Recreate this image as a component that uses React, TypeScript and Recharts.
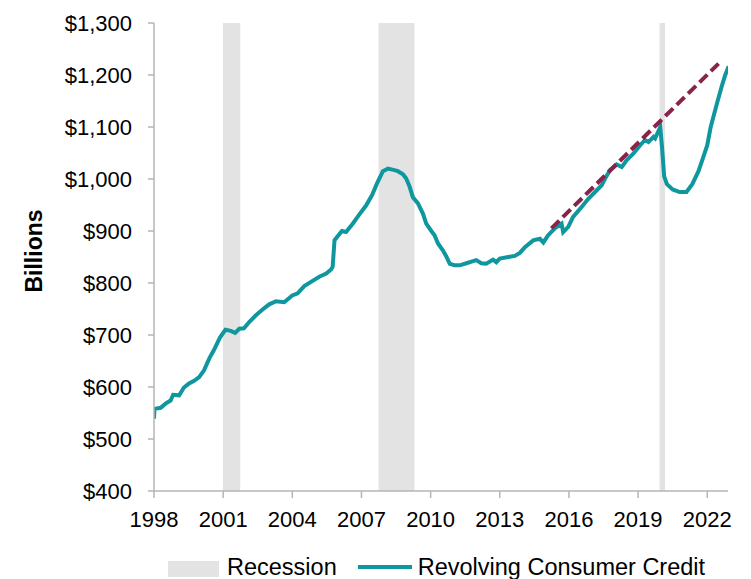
import React from "react";
import {
  Legend,
  Line,
  LineChart,
  ReferenceArea,
  XAxis,
  YAxis
} from "recharts";

const creditYears = [
  1998.0, 1998.02, 1998.29, 1998.5, 1998.72, 1998.83, 1999.09, 1999.3, 1999.52, 1999.74,
  1999.96, 2000.17, 2000.4, 2000.6, 2000.86, 2001.1, 2001.33, 2001.52, 2001.7, 2001.9,
  2002.13, 2002.42, 2002.71, 2003.0, 2003.29, 2003.65, 2004.0, 2004.23, 2004.52, 2004.88,
  2005.17, 2005.47, 2005.68, 2005.75, 2005.83, 2006.15, 2006.33, 2006.62, 2006.91, 2007.2,
  2007.46, 2007.67, 2007.93, 2008.15, 2008.43, 2008.58, 2008.8, 2008.94, 2009.09, 2009.23,
  2009.45, 2009.67, 2009.81, 2010.03, 2010.17, 2010.32, 2010.53, 2010.68, 2010.83, 2011.04,
  2011.26, 2011.55, 2011.84, 2011.98, 2012.2, 2012.41, 2012.71, 2012.85, 2013.0, 2013.37,
  2013.65, 2013.87, 2014.09, 2014.45, 2014.74, 2014.89, 2015.1, 2015.39, 2015.68, 2015.75,
  2015.97, 2016.18, 2016.55, 2016.84, 2017.13, 2017.42, 2017.57, 2017.78, 2018.07, 2018.29,
  2018.5, 2018.8, 2019.09, 2019.3, 2019.45, 2019.67, 2019.74, 2019.96, 2020.04, 2020.13,
  2020.25, 2020.5, 2020.8, 2021.1, 2021.35, 2021.62, 2021.85, 2022.0, 2022.15, 2022.42,
  2022.64, 2022.78, 2022.93
];

const creditValues = [
  539, 558, 560, 568, 574, 585, 584, 599, 607, 612,
  619, 632, 655, 671, 695, 710, 708, 704, 712, 713,
  725, 738, 749, 759, 765, 763, 776, 780, 794, 804,
  812, 818, 826, 831, 882, 900, 898, 914, 932, 949,
  969, 991, 1015, 1020, 1017, 1015, 1009, 1001, 985, 965,
  953, 933, 914, 900, 892, 876, 863, 851, 837, 834,
  834, 838, 842, 844, 838, 837, 845, 840, 847, 850,
  852, 858, 869, 882, 885, 878, 892, 905, 914, 898,
  908, 927, 946, 962, 975, 988, 1001, 1017, 1028, 1023,
  1036, 1049, 1065, 1075, 1071, 1081, 1078, 1100, 1060, 1005,
  990, 980, 975, 975, 990, 1015, 1045, 1065, 1100, 1145,
  1180, 1200, 1217
];

const trendYears = [2015.24, 2022.49];
const trendValues = [905, 1222];

const recessionStart = [2000.99, 2007.74, 2019.93];
const recessionEnd = [2001.74, 2009.3, 2020.17];

const yearTicks = [1998, 2001, 2004, 2007, 2010, 2013, 2016, 2019, 2022];
const valueTicks = [400, 500, 600, 700, 800, 900, 1000, 1100, 1200, 1300];

const creditData = creditYears.map((year, i) => ({ year, credit: creditValues[i] }));
const trendData = trendYears.map((year, i) => ({ year, trend: trendValues[i] }));

const FONT = "'Liberation Sans', Arial, sans-serif";
const TEAL = "#0E979E";
const MAROON = "#8A2249";
const GREY = "#E3E3E3";
const AXIS = "#B5B5B5";

function formatDollar(v: number) {
  return "$" + v.toLocaleString("en-US");
}

function ChartLegend() {
  return (
    <div
      style={{
        height: 24,
        display: "flex",
        alignItems: "center",
        fontFamily: FONT,
        fontSize: 23.5,
        lineHeight: "24px",
        color: "#000",
        paddingLeft: 168,
        whiteSpace: "nowrap"
      }}
    >
      <span style={{ width: 51, height: 16, background: GREY, display: "inline-block", marginTop: 4 }} />
      <span style={{ marginLeft: 8 }}>Recession</span>
      <span style={{ width: 54, height: 4, background: TEAL, display: "inline-block", marginLeft: 21 }} />
      <span style={{ marginLeft: 6 }}>Revolving Consumer Credit</span>
    </div>
  );
}

export default function App() {
  return (
    <div style={{ position: "absolute", left: 0, top: 0, background: "#fff" }}>
      <LineChart
        width={751}
        height={579}
        data={creditData}
        margin={{ top: 23, right: 23, left: 0, bottom: 0 }}
        style={{ fontFamily: FONT }}
      >
        {recessionStart.map((x1, i) => (
          <ReferenceArea
            key={x1}
            x1={x1}
            x2={recessionEnd[i]}
            y1={400}
            y2={1300}
            fill={GREY}
            fillOpacity={1}
            stroke="none"
          />
        ))}
        <XAxis
          dataKey="year"
          type="number"
          domain={[1998, 2022.9]}
          ticks={yearTicks}
          allowDataOverflow
          height={64}
          stroke={AXIS}
          strokeWidth={1.5}
          tickSize={7}
          tickMargin={13}
          tick={{ fill: "#000", fontSize: 22 }}
        />
        <YAxis
          type="number"
          domain={[400, 1300]}
          ticks={valueTicks}
          width={154}
          stroke={AXIS}
          strokeWidth={1.5}
          tickSize={6}
          tickMargin={16}
          tickFormatter={formatDollar}
          tick={{ fill: "#000", fontSize: 22 }}
          label={{
            value: "Billions",
            angle: -90,
            position: "center",
            dx: -43,
            dy: -6,
            style: { fill: "#000", fontSize: 23, fontWeight: "bold" }
          }}
        />
        <Legend verticalAlign="bottom" height={24} content={() => <ChartLegend />} />
        <Line
          type="linear"
          dataKey="credit"
          stroke={TEAL}
          strokeWidth={4}
          dot={false}
          isAnimationActive={false}
        />
        <Line
          data={trendData}
          type="linear"
          dataKey="trend"
          stroke={MAROON}
          strokeWidth={4}
          strokeDasharray="11 5"
          dot={false}
          isAnimationActive={false}
        />
      </LineChart>
    </div>
  );
}
